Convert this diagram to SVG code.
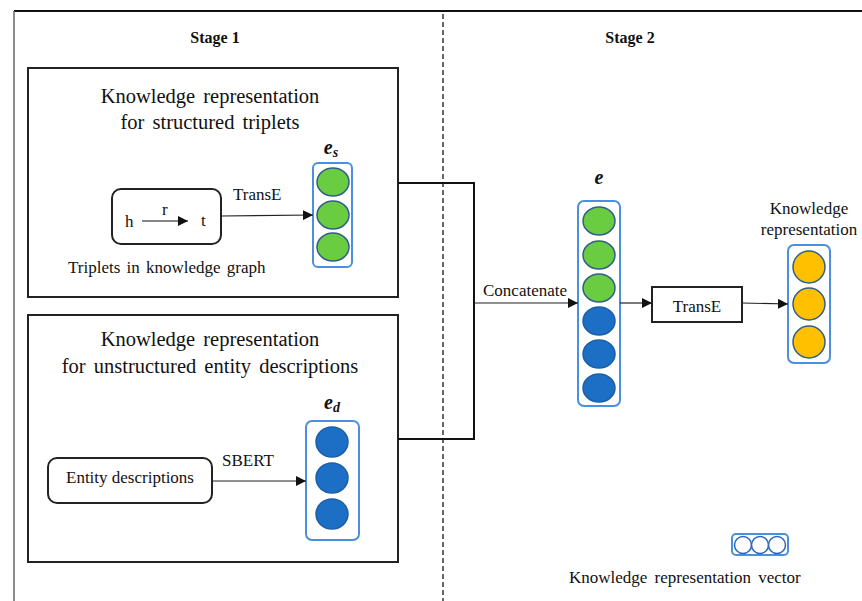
<svg xmlns="http://www.w3.org/2000/svg" width="862" height="601" viewBox="0 0 862 601">
  <style>
    text { font-family: "Liberation Serif", Tinos, "DejaVu Serif", serif; fill: #111; }
    .stage { font-size: 16px; font-weight: bold; text-anchor: middle; }
    .title { font-size: 20.5px; text-anchor: middle; word-spacing: 3px; }
    .lbl { font-size: 17px; }
    .mid { text-anchor: middle; }
    .vec { font-size: 20px; font-weight: bold; font-style: italic; text-anchor: middle; }
    .panel { fill: #fff; stroke: #222; stroke-width: 2; }
    .rbox { fill: #fff; stroke: #222; stroke-width: 2; }
    .vbox { fill: #fff; stroke: #4a8fe0; stroke-width: 2; }
    .green { fill: #6acc41; stroke: #2f5f8a; stroke-width: 1.5; }
    .blue { fill: #1d6fc6; stroke: #1b5fa8; stroke-width: 1.5; }
    .yellow { fill: #ffc000; stroke: #2f5f8a; stroke-width: 1.5; }
    .empty { fill: #fff; stroke: #2b66b8; stroke-width: 1.5; }
    .wire { fill: none; stroke: #111; stroke-width: 2; }
    .thin { fill: none; stroke: #222; stroke-width: 1.2; }
  </style>
  <defs>
    <marker id="tri" viewBox="0 0 10 10" refX="10" refY="5" markerWidth="10" markerHeight="10" markerUnits="userSpaceOnUse" orient="auto">
      <path d="M0,0 L10,5 L0,10 z" fill="#111"/>
    </marker>
  </defs>

  <rect width="862" height="601" fill="#fff"/>

  <!-- outer frame: top and left rule, dashed stage divider -->
  <g id="frame">
    <line x1="14" y1="11" x2="862" y2="11" stroke="#111" stroke-width="2"/>
    <line x1="14" y1="11" x2="14" y2="601" stroke="#666" stroke-width="1.5"/>
    <line x1="443" y1="14" x2="443" y2="601" stroke="#333" stroke-width="1.5" stroke-dasharray="5,3"/>
    <text class="stage" x="215" y="43">Stage 1</text>
    <text class="stage" x="630" y="43">Stage 2</text>
  </g>

  <!-- stage 1: structured triplets -->
  <g id="panel-structured">
    <rect class="panel" x="28" y="68" width="370" height="229"/>
    <text class="title" x="210" y="103">Knowledge representation</text>
    <text class="title" x="210" y="129">for structured triplets</text>
  </g>
  <g id="triplet-box">
    <rect class="rbox" x="112" y="189" width="109" height="55" rx="9"/>
    <text class="lbl" x="125" y="227" font-size="19">h</text>
    <line x1="142" y1="221" x2="188" y2="221" stroke="#111" stroke-width="1.2" marker-end="url(#tri)"/>
    <text class="lbl" x="162" y="215">r</text>
    <text class="lbl" x="201" y="226" font-size="19">t</text>
    <text class="lbl" x="68" y="273" word-spacing="2">Triplets in knowledge graph</text>
  </g>
  <g id="vec-es">
    <text class="vec" x="331" y="154">e<tspan font-size="14" dy="3">s</tspan></text>
    <rect class="vbox" x="313" y="163" width="39" height="104" rx="5"/>
    <ellipse class="green" cx="333" cy="182" rx="16" ry="14"/>
    <ellipse class="green" cx="333" cy="215" rx="16" ry="14"/>
    <ellipse class="green" cx="333" cy="247" rx="16" ry="14"/>
  </g>

  <!-- stage 1: unstructured descriptions -->
  <g id="panel-unstructured">
    <rect class="panel" x="28" y="315" width="370" height="247"/>
    <text class="title" x="210" y="346">Knowledge representation</text>
    <text class="title" x="210" y="373">for unstructured entity descriptions</text>
  </g>
  <g id="desc-box">
    <rect class="rbox" x="48" y="458" width="164" height="45" rx="9"/>
    <text class="lbl mid" x="130" y="483">Entity descriptions</text>
  </g>
  <g id="vec-ed">
    <text class="vec" x="332" y="409">e<tspan font-size="14" dy="3">d</tspan></text>
    <rect class="vbox" x="306" y="421" width="53" height="119" rx="6"/>
    <ellipse class="blue" cx="332" cy="442" rx="16" ry="15"/>
    <ellipse class="blue" cx="332" cy="478" rx="16" ry="15"/>
    <ellipse class="blue" cx="332" cy="514" rx="16" ry="15"/>
  </g>

  <!-- stage 2: concatenated vector -->
  <g id="vec-e">
    <text class="vec" x="599" y="184">e</text>
    <rect class="vbox" x="578" y="201" width="42" height="205" rx="6"/>
    <ellipse class="green" cx="599" cy="221" rx="16" ry="14"/>
    <ellipse class="green" cx="599" cy="255" rx="16" ry="14"/>
    <ellipse class="green" cx="599" cy="288" rx="16" ry="14"/>
    <ellipse class="blue" cx="599" cy="321" rx="16" ry="14"/>
    <ellipse class="blue" cx="599" cy="354" rx="16" ry="14"/>
    <ellipse class="blue" cx="599" cy="388" rx="16" ry="14"/>
  </g>
  <g id="transe-box">
    <rect class="rbox" x="652" y="287" width="90" height="35"/>
    <text class="lbl mid" x="697" y="312" font-size="19">TransE</text>
  </g>
  <g id="vec-out">
    <text class="lbl mid" x="809" y="214">Knowledge</text>
    <text class="lbl mid" x="809" y="235">representation</text>
    <rect class="vbox" x="788" y="245" width="42" height="118" rx="6"/>
    <ellipse class="yellow" cx="809" cy="267" rx="16" ry="16"/>
    <ellipse class="yellow" cx="809" cy="304" rx="16" ry="16"/>
    <ellipse class="yellow" cx="809" cy="342" rx="16" ry="16"/>
  </g>

  <!-- legend -->
  <g id="legend">
    <rect class="vbox" x="732" y="534" width="56" height="21" rx="4"/>
    <circle class="empty" cx="743" cy="545" r="8.5"/>
    <circle class="empty" cx="760" cy="545" r="8.5"/>
    <circle class="empty" cx="777" cy="545" r="8.5"/>
    <text class="lbl" x="569" y="583" word-spacing="3">Knowledge representation vector</text>
  </g>

  <!-- connectors -->
  <g id="connectors">
    <line class="thin" x1="221" y1="216" x2="313" y2="215" marker-end="url(#tri)"/>
    <text class="lbl" x="233" y="200">TransE</text>
    <line class="thin" x1="212" y1="481" x2="306" y2="481" marker-end="url(#tri)"/>
    <text class="lbl" x="222" y="466">SBERT</text>
    <polyline class="wire" points="398,183 474,183 474,439 398,439"/>
    <line class="thin" x1="474" y1="303" x2="578" y2="303" marker-end="url(#tri)"/>
    <text class="lbl" x="483" y="296">Concatenate</text>
    <line class="thin" x1="620" y1="303" x2="652" y2="303" marker-end="url(#tri)"/>
    <line class="thin" x1="742" y1="303" x2="788" y2="304" marker-end="url(#tri)"/>
  </g>
</svg>
